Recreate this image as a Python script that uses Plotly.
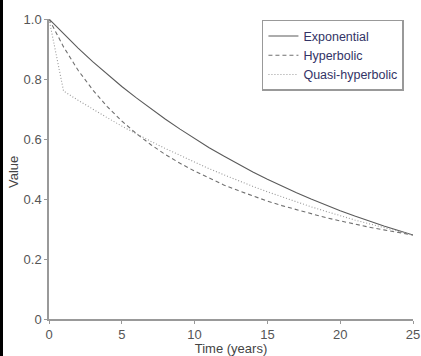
import plotly.graph_objects as go

years = list(range(26))
exponential = [1.000, 0.950, 0.903, 0.858, 0.816, 0.775, 0.737, 0.700, 0.666, 0.633,
               0.601, 0.571, 0.543, 0.516, 0.490, 0.466, 0.443, 0.421, 0.400, 0.380,
               0.361, 0.343, 0.326, 0.310, 0.295, 0.280]
hyperbolic = [1.000, 0.907, 0.829, 0.764, 0.708, 0.660, 0.618, 0.581, 0.548, 0.519,
              0.493, 0.469, 0.447, 0.428, 0.410, 0.393, 0.378, 0.364, 0.351, 0.338,
              0.327, 0.316, 0.306, 0.297, 0.288, 0.280]
quasi_hyperbolic = [1.000, 0.760, 0.729, 0.699, 0.671, 0.643, 0.617, 0.592, 0.568, 0.545,
                    0.522, 0.501, 0.481, 0.461, 0.442, 0.424, 0.407, 0.390, 0.374, 0.359,
                    0.344, 0.330, 0.317, 0.304, 0.292, 0.280]
x_ticks = [0, 5, 10, 15, 20, 25]
y_ticks = [0, 0.2, 0.4, 0.6, 0.8, 1.0]
y_tick_labels = ["0", "0.2", "0.4", "0.6", "0.8", "1.0"]

FONT = "Liberation Sans, Arial, sans-serif"

fig = go.Figure()
fig.add_trace(go.Scatter(x=years, y=exponential, mode="lines", name="Exponential",
                         line=dict(color="#5a5a5a", width=1.1, dash="solid"), cliponaxis=False))
fig.add_trace(go.Scatter(x=years, y=hyperbolic, mode="lines", name="Hyperbolic",
                         line=dict(color="#707070", width=1.1, dash="4px,3px"), cliponaxis=False))
fig.add_trace(go.Scatter(x=years, y=quasi_hyperbolic, mode="lines", name="Quasi-hyperbolic",
                         line=dict(color="#999999", width=1.1, dash="1px,2px"), cliponaxis=False))

axis_common = dict(showgrid=False, zeroline=False, showline=True, linecolor="#999999",
                   linewidth=1.5, ticks="outside", ticklen=3, tickcolor="#999999",
                   automargin=False,
                   tickfont=dict(family=FONT, size=13, color="#555555"))

fig.update_layout(
    width=421, height=356,
    margin=dict(l=49, r=8, t=19, b=37),
    paper_bgcolor="white", plot_bgcolor="white",
    font=dict(family=FONT, size=13, color="#333333"),
    xaxis=dict(range=[0, 25], tickvals=x_ticks, ticktext=[str(v) for v in x_ticks],
               title=dict(text="Time (years)", standoff=0, font=dict(size=13, color="#444444")),
               **axis_common),
    yaxis=dict(range=[0, 1], tickvals=y_ticks, ticktext=y_tick_labels, **axis_common),
    legend=dict(x=0.585, y=0.997, xanchor="left", yanchor="top",
                bgcolor="white", bordercolor="#999999", borderwidth=1.5,
                font=dict(size=12.5, color="#333366"), tracegroupgap=0, itemwidth=30),
    annotations=[dict(text="Value", xref="paper", yref="paper", x=(13 - 49) / 364,
                      y=(319 - 172) / 300, xanchor="center", yanchor="middle",
                      textangle=-90, showarrow=False,
                      font=dict(family=FONT, size=13, color="#444444"))],
    shapes=[dict(type="rect", xref="paper", yref="paper",
                 x0=-49/364, x1=-46/364, y0=-37/300, y1=19/300 + 1,
                 fillcolor="black", line=dict(width=0))],
)

fig.write_html("out.html", config={"displayModeBar": False},
               post_script="document.body.style.margin='0px';document.body.style.overflow='hidden';")
